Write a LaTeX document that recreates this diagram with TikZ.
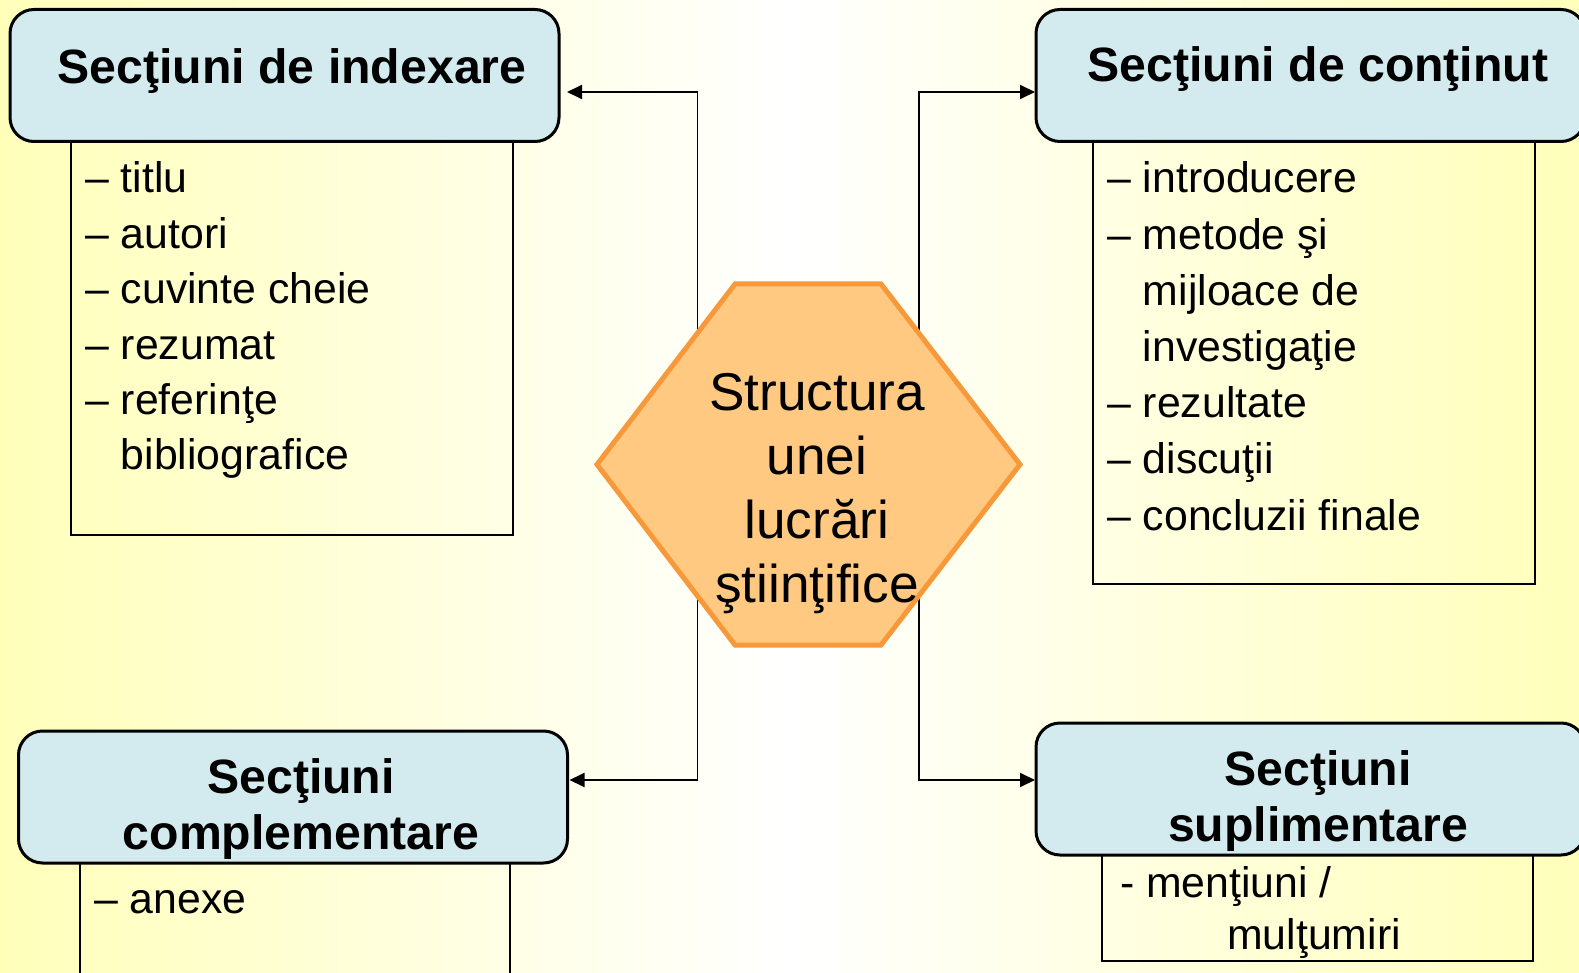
\documentclass[tikz,border=0pt]{standalone}
\usepackage{fontspec}
\setmainfont{Liberation Sans}
\usetikzlibrary{arrows.meta}

\definecolor{bgyellow}{RGB}{255,255,186}
\definecolor{headblue}{RGB}{211,235,238}
\definecolor{hexfill}{RGB}{255,201,130}
\definecolor{hexline}{RGB}{247,153,58}

\newcommand{\headfont}{\fontsize{48.2}{56}\selectfont\bfseries}
\newcommand{\hexfont}{\fontsize{53.2}{64}\selectfont}

\begin{document}
\begin{tikzpicture}[x=1pt, y=-1pt,
  head/.style = {draw, line width=3pt, fill=headblue, rounded corners=24pt, minimum width=549pt, minimum height=132pt, inner sep=0pt, outer sep=0pt},
  title/.style = {font=\headfont, anchor=base, inner sep=0pt},
  list/.style = {draw, line width=1.8pt, anchor=north west, inner sep=0pt, outer sep=0pt},
  items/.style = {font=\fontsize{42.8}{#1}\selectfont, anchor=base west, inner sep=0pt},
  link/.style = {line width=1.8pt, -{Triangle[length=15pt,width=14pt]}}]
\useasboundingbox (0,0) rectangle (1579,973);
\clip (0,0) rectangle (1579,973);
\shade[left color=bgyellow, right color=bgyellow, middle color=white] (0,0) rectangle (1579,973);

% list boxes
\node[list, minimum width=442pt, minimum height=393pt] (idxL) at (71,142) {};
\node[list, minimum width=442pt, minimum height=442pt] (contL) at (1093,142) {};
\node[list, minimum width=430pt, minimum height=160pt] (complL) at (80,863) {};
\node[list, minimum width=431pt, minimum height=106pt] (suplL) at (1102,855) {};

% headers
\node[head] (idx) at (284.5,75.5) {};
\node[head] (cont) at (1310.5,75.5) {};
\node[head] (compl) at (293,797) {};
\node[head] (supl) at (1310.5,789) {};

\node[title] (idxT) at ([xshift=7.5pt, yshift=-74pt]idx.north) {Secţiuni de indexare};
\node[title] (contT) at ([xshift=7.5pt, yshift=-72.5pt]cont.north) {Secţiuni de conţinut};
\node[title] (complT) at ([xshift=8pt, yshift=-62pt]compl.north) {\begin{tabular}[t]{@{}c@{}}Secţiuni\\complementare\end{tabular}};
\node[title] (suplT) at ([xshift=7.5pt, yshift=-62pt]supl.north) {\begin{tabular}[t]{@{}c@{}}Secţiuni\\suplimentare\end{tabular}};

% list texts
\node[items=55.4] (idxI) at ([xshift=14pt, yshift=-51pt]idxL.north west) {\begin{tabular}[t]{@{}l@{\ }l@{}}
– & titlu\\ – & autori\\ – & cuvinte cheie\\ – & rezumat\\ – & referinţe\\ & bibliografice\end{tabular}};
\node[items=56.2] (contI) at ([xshift=14pt, yshift=-51pt]contL.north west) {\begin{tabular}[t]{@{}l@{\ }l@{}}
– & introducere\\ – & metode şi\\ & mijloace de\\ & investigaţie\\ – & rezultate\\ – & discuţii\\ – & concluzii finale\end{tabular}};
\node[items=56] (complI) at ([xshift=14pt, yshift=-50pt]complL.north west) {– anexe};
\node[items=52] (suplI) at ([xshift=18pt, yshift=-42pt]suplL.north west) {\begin{tabular}[t]{@{}l@{}}
- menţiuni /\\ \hspace{107pt}mulţumiri\end{tabular}};

% connectors
\coordinate (lt) at (697.5,92);
\coordinate (lb) at (697.5,780);
\coordinate (rt) at (919,92);
\coordinate (rb) at (919,780);
\draw[link, shorten >=8pt] (lb) -- (lt) -- (lt -| idx.east);
\draw[link, shorten >=2pt] (lt) -- (lb) -- (lb -| compl.east);
\draw[link, shorten >=1pt] (rb) -- (rt) -- (rt -| cont.west);
\draw[link, shorten >=1pt] (rt) -- (rb) -- (rb -| supl.west);

% hexagon
\draw[fill=hexfill, draw=hexline, line width=5pt] (735,284) -- (881,284) -- (1020,464.5) -- (881,645) -- (735,645) -- (597,464.5) -- cycle;
\node[font=\hexfont, anchor=base, inner sep=0pt] (hex) at (817,410) {\begin{tabular}[t]{@{}c@{}}Structura\\unei\\lucrări\\ştiinţifice\end{tabular}};
\end{tikzpicture}
\end{document}
